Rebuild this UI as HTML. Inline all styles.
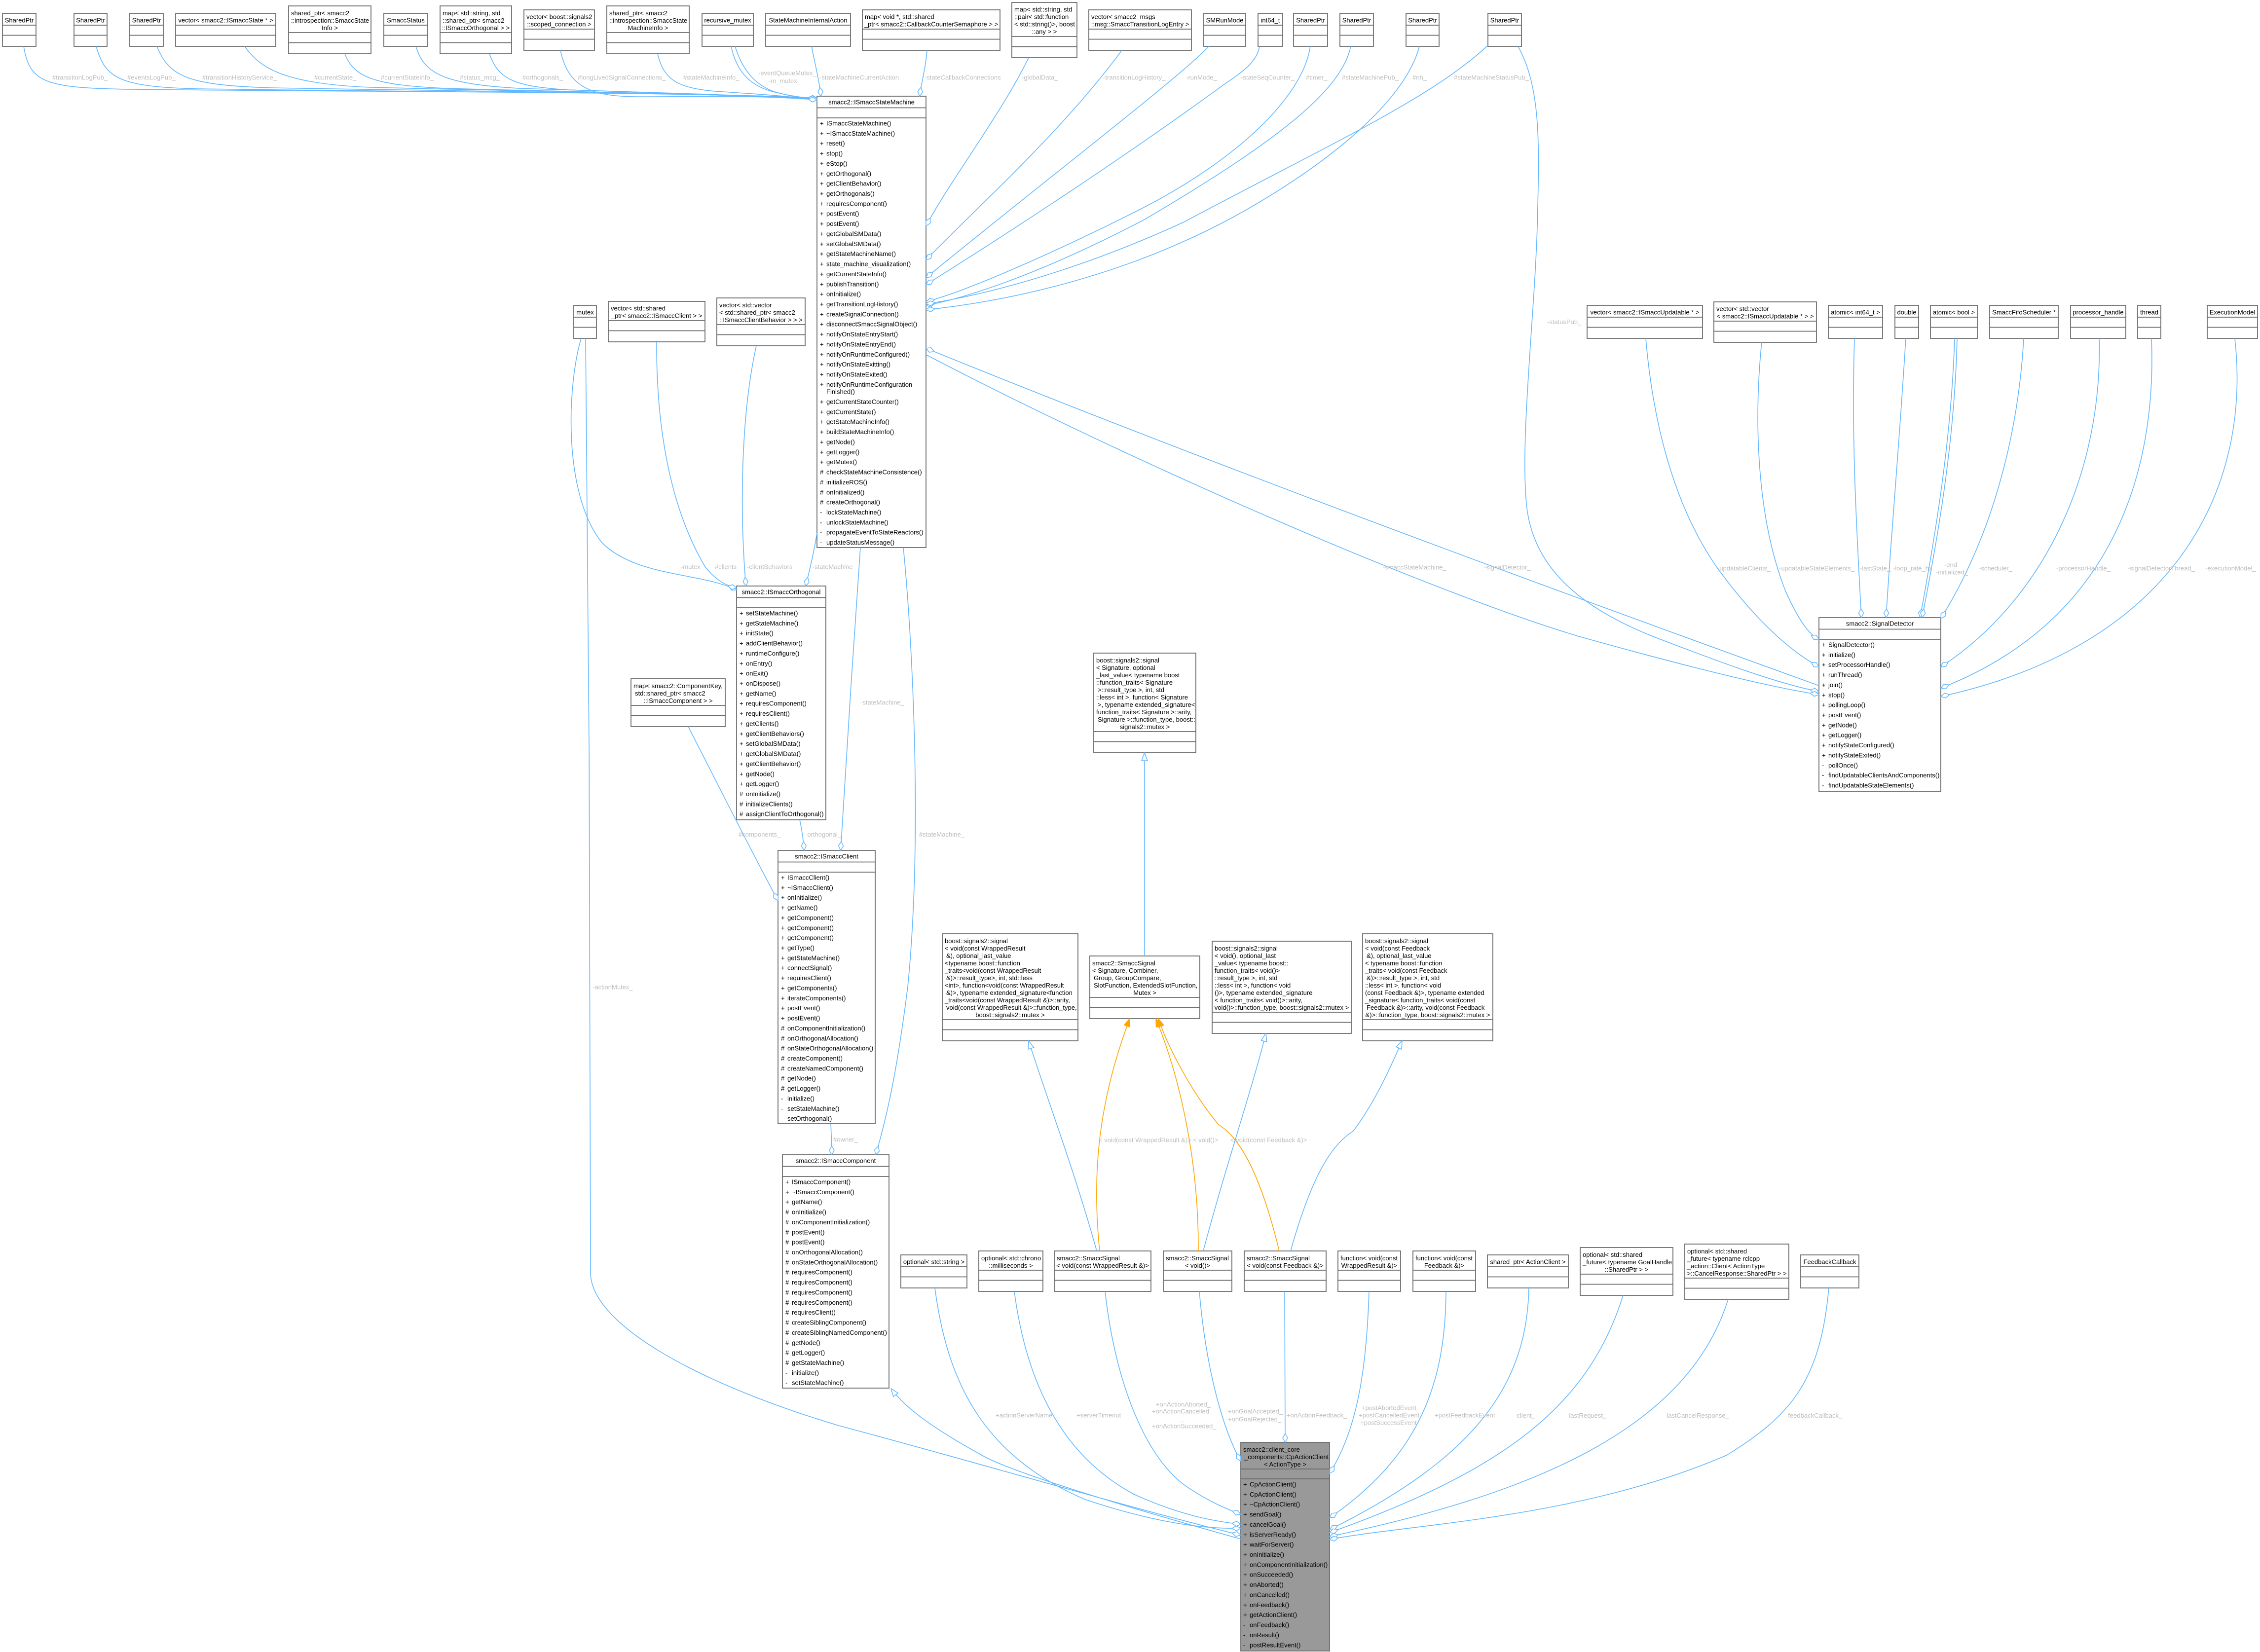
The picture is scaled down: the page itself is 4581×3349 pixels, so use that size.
<!DOCTYPE html>
<html><head><meta charset="utf-8">
<style>
html,body{margin:0;padding:0;background:#fff}
svg{display:block}
text{font-family:"Liberation Sans",Arial,sans-serif;font-size:13px;fill:#000}
.l{fill:#bebebe}
.m{text-anchor:middle}
.b{fill:#fff;stroke:#6b6b6b;stroke-width:1.8}
.g{fill:#999;stroke:#6b6b6b;stroke-width:1.8}
.v{fill:none;stroke:#6b6b6b;stroke-width:1.8}
.e{fill:none;stroke:#63b8ff;stroke-width:1.6}
.o{fill:none;stroke:#ffa500;stroke-width:1.6}
</style></head><body>
<svg xmlns="http://www.w3.org/2000/svg" width="4581" height="3349" viewBox="0 0 4581 3349">
<defs>
<marker id="d" viewBox="0 0 20 12" markerWidth="20" markerHeight="12" refX="19" refY="6" orient="auto" markerUnits="userSpaceOnUse"><path d="M1,6 L10,1 L19,6 L10,11 Z" fill="#fff" stroke="#63b8ff" stroke-width="1.5"/></marker>
<marker id="t" viewBox="0 0 18 14" markerWidth="18" markerHeight="14" refX="17" refY="7" orient="auto" markerUnits="userSpaceOnUse"><path d="M1,1 L17,7 L1,13 Z" fill="#fff" stroke="#63b8ff" stroke-width="1.5"/></marker>
<marker id="f" viewBox="0 0 18 14" markerWidth="18" markerHeight="14" refX="17" refY="7" orient="auto" markerUnits="userSpaceOnUse"><path d="M1,1 L17,7 L1,13 Z" fill="#ffa500" stroke="#ffa500" stroke-width="1.5"/></marker>
</defs>
<rect width="4581" height="3349" fill="#fff"/>

<!-- ===== TOP ROW BOXES ===== -->
<rect class="b" x="5" y="27" width="68" height="67"/><path class="v" d="M5,51H73M5,71.5H73"/><text class="m" x="39" y="45.5">SharedPtr</text>
<rect class="b" x="150" y="27" width="67" height="67"/><path class="v" d="M150,51H217M150,71.5H217"/><text class="m" x="183.5" y="45.5">SharedPtr</text>
<rect class="b" x="263" y="27" width="68" height="67"/><path class="v" d="M263,51H331M263,71.5H331"/><text class="m" x="297" y="45.5">SharedPtr</text>
<rect class="b" x="356" y="27" width="203" height="67"/><path class="v" d="M356,51H559M356,71.5H559"/><text class="m" x="457.5" y="45.5">vector&lt; smacc2::ISmaccState * &gt;</text>
<rect class="b" x="585" y="12" width="167" height="97"/><path class="v" d="M585,66H752M585,86.5H752"/><text x="590" y="31">shared_ptr&lt; smacc2</text><text x="590" y="46">::introspection::SmaccState</text><text class="m" x="668.5" y="61">Info &gt;</text>
<rect class="b" x="778" y="27" width="89" height="67"/><path class="v" d="M778,51H867M778,71.5H867"/><text class="m" x="822.5" y="45.5">SmaccStatus</text>
<rect class="b" x="892" y="12" width="145" height="97"/><path class="v" d="M892,66H1037M892,86.5H1037"/><text x="897" y="31">map&lt; std::string, std</text><text x="897" y="46">::shared_ptr&lt; smacc2</text><text class="m" x="964.5" y="61">::ISmaccOrthogonal &gt; &gt;</text>
<rect class="b" x="1062" y="20" width="143" height="82"/><path class="v" d="M1062,59H1205M1062,79.5H1205"/><text x="1067" y="38.5">vector&lt; boost::signals2</text><text class="m" x="1133.5" y="53.5">::scoped_connection &gt;</text>
<rect class="b" x="1230" y="12" width="167" height="97"/><path class="v" d="M1230,66H1397M1230,86.5H1397"/><text x="1235" y="31">shared_ptr&lt; smacc2</text><text x="1235" y="46">::introspection::SmaccState</text><text class="m" x="1313.5" y="61">MachineInfo &gt;</text>
<rect class="b" x="1423" y="27" width="104" height="67"/><path class="v" d="M1423,51H1527M1423,71.5H1527"/><text class="m" x="1475" y="45.5">recursive_mutex</text>
<rect class="b" x="1552" y="27" width="172" height="67"/><path class="v" d="M1552,51H1724M1552,71.5H1724"/><text class="m" x="1638" y="45.5">StateMachineInternalAction</text>
<rect class="b" x="1748" y="20" width="279" height="82"/><path class="v" d="M1748,59H2027M1748,79.5H2027"/><text x="1753" y="38.5">map&lt; void *, std::shared</text><text class="m" x="1887.5" y="53.5">_ptr&lt; smacc2::CallbackCounterSemaphore &gt; &gt;</text>
<rect class="b" x="2051" y="5" width="132" height="112"/><path class="v" d="M2051,74H2183M2051,94.5H2183"/><text x="2056" y="23.5">map&lt; std::string, std</text><text x="2056" y="38.5">::pair&lt; std::function</text><text x="2056" y="53.5">&lt; std::string()&gt;, boost</text><text class="m" x="2117" y="68.5">::any &gt; &gt;</text>
<rect class="b" x="2207" y="20" width="208" height="82"/><path class="v" d="M2207,59H2415M2207,79.5H2415"/><text x="2212" y="38.5">vector&lt; smacc2_msgs</text><text class="m" x="2311" y="53.5">::msg::SmaccTransitionLogEntry &gt;</text>
<rect class="b" x="2440" y="27" width="85" height="67"/><path class="v" d="M2440,51H2525M2440,71.5H2525"/><text class="m" x="2482.5" y="45.5">SMRunMode</text>
<rect class="b" x="2550" y="27" width="50" height="67"/><path class="v" d="M2550,51H2600M2550,71.5H2600"/><text class="m" x="2575" y="45.5">int64_t</text>
<rect class="b" x="2622" y="27" width="69" height="67"/><path class="v" d="M2622,51H2691M2622,71.5H2691"/><text class="m" x="2656.5" y="45.5">SharedPtr</text>
<rect class="b" x="2716" y="27" width="68" height="67"/><path class="v" d="M2716,51H2784M2716,71.5H2784"/><text class="m" x="2750" y="45.5">SharedPtr</text>
<rect class="b" x="2850" y="27" width="67" height="67"/><path class="v" d="M2850,51H2917M2850,71.5H2917"/><text class="m" x="2883.5" y="45.5">SharedPtr</text>
<rect class="b" x="3016" y="27" width="68" height="67"/><path class="v" d="M3016,51H3084M3016,71.5H3084"/><text class="m" x="3050" y="45.5">SharedPtr</text>

<!-- ===== MID-LEFT SMALL BOXES ===== -->
<rect class="b" x="1163" y="619" width="46" height="67"/><path class="v" d="M1163,643H1209M1163,663.5H1209"/><text class="m" x="1186" y="637.5">mutex</text>
<rect class="b" x="1233" y="611" width="196" height="82"/><path class="v" d="M1233,650H1429M1233,670.5H1429"/><text x="1238" y="629.5">vector&lt; std::shared</text><text class="m" x="1331" y="644.5">_ptr&lt; smacc2::ISmaccClient &gt; &gt;</text>
<rect class="b" x="1453" y="604" width="179" height="97"/><path class="v" d="M1453,658H1632M1453,678.5H1632"/><text x="1458" y="623">vector&lt; std::vector</text><text x="1458" y="638">&lt; std::shared_ptr&lt; smacc2</text><text class="m" x="1542.5" y="653">::ISmaccClientBehavior &gt; &gt; &gt;</text>
<rect class="b" x="1279" y="1376" width="191" height="97"/><path class="v" d="M1279,1430H1470M1279,1450.5H1470"/><text x="1284" y="1395">map&lt; smacc2::ComponentKey,</text><text x="1287" y="1410">std::shared_ptr&lt; smacc2</text><text class="m" x="1374.5" y="1425">::ISmaccComponent &gt; &gt;</text>

<!-- ===== RIGHT ROW BOXES ===== -->
<rect class="b" x="3217" y="619" width="234" height="67"/><path class="v" d="M3217,643H3451M3217,663.5H3451"/><text class="m" x="3334" y="637.5">vector&lt; smacc2::ISmaccUpdatable * &gt;</text>
<rect class="b" x="3474" y="612" width="208" height="82"/><path class="v" d="M3474,651H3682M3474,671.5H3682"/><text x="3479" y="630.5">vector&lt; std::vector</text><text class="m" x="3578" y="645.5">&lt; smacc2::ISmaccUpdatable * &gt; &gt;</text>
<rect class="b" x="3706" y="619" width="110" height="67"/><path class="v" d="M3706,643H3816M3706,663.5H3816"/><text class="m" x="3761" y="637.5">atomic&lt; int64_t &gt;</text>
<rect class="b" x="3841" y="619" width="48" height="67"/><path class="v" d="M3841,643H3889M3841,663.5H3889"/><text class="m" x="3865" y="637.5">double</text>
<rect class="b" x="3913" y="619" width="95" height="67"/><path class="v" d="M3913,643H4008M3913,663.5H4008"/><text class="m" x="3960.5" y="637.5">atomic&lt; bool &gt;</text>
<rect class="b" x="4033" y="619" width="139" height="67"/><path class="v" d="M4033,643H4172M4033,663.5H4172"/><text class="m" x="4102.5" y="637.5">SmaccFifoScheduler *</text>
<rect class="b" x="4197" y="619" width="112" height="67"/><path class="v" d="M4197,643H4309M4197,663.5H4309"/><text class="m" x="4253" y="637.5">processor_handle</text>
<rect class="b" x="4333" y="619" width="47" height="67"/><path class="v" d="M4333,643H4380M4333,663.5H4380"/><text class="m" x="4356.5" y="637.5">thread</text>
<rect class="b" x="4474" y="619" width="102" height="67"/><path class="v" d="M4474,643H4576M4474,663.5H4576"/><text class="m" x="4525" y="637.5">ExecutionModel</text>

<!-- ===== ISmaccStateMachine ===== -->
<rect class="b" x="1656" y="195" width="221" height="915"/><path class="v" d="M1656,218.5H1877M1656,239H1877"/>
<text class="m" x="1766.5" y="211.5">smacc2::ISmaccStateMachine</text>
<text x="1662" y="254.5"><tspan x="1662" dy="0">+</tspan><tspan x="1662" dy="20.36">+</tspan><tspan x="1662" dy="20.36">+</tspan><tspan x="1662" dy="20.36">+</tspan><tspan x="1662" dy="20.36">+</tspan><tspan x="1662" dy="20.36">+</tspan><tspan x="1662" dy="20.36">+</tspan><tspan x="1662" dy="20.36">+</tspan><tspan x="1662" dy="20.36">+</tspan><tspan x="1662" dy="20.36">+</tspan><tspan x="1662" dy="20.36">+</tspan><tspan x="1662" dy="20.36">+</tspan><tspan x="1662" dy="20.36">+</tspan><tspan x="1662" dy="20.36">+</tspan><tspan x="1662" dy="20.36">+</tspan><tspan x="1662" dy="20.36">+</tspan><tspan x="1662" dy="20.36">+</tspan><tspan x="1662" dy="20.36">+</tspan><tspan x="1662" dy="20.36">+</tspan><tspan x="1662" dy="20.36">+</tspan><tspan x="1662" dy="20.36">+</tspan><tspan x="1662" dy="20.36">+</tspan><tspan x="1662" dy="20.36">+</tspan><tspan x="1662" dy="20.36">+</tspan><tspan x="1662" dy="20.36">+</tspan><tspan x="1662" dy="20.36">+</tspan><tspan x="1662" dy="20.36">+</tspan><tspan x="1662" dy="35.16">+</tspan><tspan x="1662" dy="20.36">+</tspan><tspan x="1662" dy="20.36">+</tspan><tspan x="1662" dy="20.36">+</tspan><tspan x="1662" dy="20.36">+</tspan><tspan x="1662" dy="20.36">+</tspan><tspan x="1662" dy="20.36">+</tspan><tspan x="1662" dy="20.36">#</tspan><tspan x="1662" dy="20.36">#</tspan><tspan x="1662" dy="20.36">#</tspan><tspan x="1662" dy="20.36">#</tspan><tspan x="1662" dy="20.36">-</tspan><tspan x="1662" dy="20.36">-</tspan><tspan x="1662" dy="20.36">-</tspan><tspan x="1662" dy="20.36">-</tspan></text>
<text x="1675" y="254.5"><tspan x="1675" dy="0">ISmaccStateMachine()</tspan><tspan x="1675" dy="20.36">~ISmaccStateMachine()</tspan><tspan x="1675" dy="20.36">reset()</tspan><tspan x="1675" dy="20.36">stop()</tspan><tspan x="1675" dy="20.36">eStop()</tspan><tspan x="1675" dy="20.36">getOrthogonal()</tspan><tspan x="1675" dy="20.36">getClientBehavior()</tspan><tspan x="1675" dy="20.36">getOrthogonals()</tspan><tspan x="1675" dy="20.36">requiresComponent()</tspan><tspan x="1675" dy="20.36">postEvent()</tspan><tspan x="1675" dy="20.36">postEvent()</tspan><tspan x="1675" dy="20.36">getGlobalSMData()</tspan><tspan x="1675" dy="20.36">setGlobalSMData()</tspan><tspan x="1675" dy="20.36">getStateMachineName()</tspan><tspan x="1675" dy="20.36">state_machine_visualization()</tspan><tspan x="1675" dy="20.36">getCurrentStateInfo()</tspan><tspan x="1675" dy="20.36">publishTransition()</tspan><tspan x="1675" dy="20.36">onInitialize()</tspan><tspan x="1675" dy="20.36">getTransitionLogHistory()</tspan><tspan x="1675" dy="20.36">createSignalConnection()</tspan><tspan x="1675" dy="20.36">disconnectSmaccSignalObject()</tspan><tspan x="1675" dy="20.36">notifyOnStateEntryStart()</tspan><tspan x="1675" dy="20.36">notifyOnStateEntryEnd()</tspan><tspan x="1675" dy="20.36">notifyOnRuntimeConfigured()</tspan><tspan x="1675" dy="20.36">notifyOnStateExitting()</tspan><tspan x="1675" dy="20.36">notifyOnStateExited()</tspan><tspan x="1675" dy="20.36">notifyOnRuntimeConfiguration</tspan><tspan x="1675" dy="14.8">Finished()</tspan><tspan x="1675" dy="20.36">getCurrentStateCounter()</tspan><tspan x="1675" dy="20.36">getCurrentState()</tspan><tspan x="1675" dy="20.36">getStateMachineInfo()</tspan><tspan x="1675" dy="20.36">buildStateMachineInfo()</tspan><tspan x="1675" dy="20.36">getNode()</tspan><tspan x="1675" dy="20.36">getLogger()</tspan><tspan x="1675" dy="20.36">getMutex()</tspan><tspan x="1675" dy="20.36">checkStateMachineConsistence()</tspan><tspan x="1675" dy="20.36">initializeROS()</tspan><tspan x="1675" dy="20.36">onInitialized()</tspan><tspan x="1675" dy="20.36">createOrthogonal()</tspan><tspan x="1675" dy="20.36">lockStateMachine()</tspan><tspan x="1675" dy="20.36">unlockStateMachine()</tspan><tspan x="1675" dy="20.36">propagateEventToStateReactors()</tspan><tspan x="1675" dy="20.36">updateStatusMessage()</tspan></text>

<!-- ===== ISmaccOrthogonal ===== -->
<rect class="b" x="1493" y="1188" width="181" height="474"/><path class="v" d="M1493,1211.5H1674M1493,1232H1674"/>
<text class="m" x="1583.5" y="1204.5">smacc2::ISmaccOrthogonal</text>
<text x="1499" y="1247.5"><tspan x="1499" dy="0">+</tspan><tspan x="1499" dy="20.36">+</tspan><tspan x="1499" dy="20.36">+</tspan><tspan x="1499" dy="20.36">+</tspan><tspan x="1499" dy="20.36">+</tspan><tspan x="1499" dy="20.36">+</tspan><tspan x="1499" dy="20.36">+</tspan><tspan x="1499" dy="20.36">+</tspan><tspan x="1499" dy="20.36">+</tspan><tspan x="1499" dy="20.36">+</tspan><tspan x="1499" dy="20.36">+</tspan><tspan x="1499" dy="20.36">+</tspan><tspan x="1499" dy="20.36">+</tspan><tspan x="1499" dy="20.36">+</tspan><tspan x="1499" dy="20.36">+</tspan><tspan x="1499" dy="20.36">+</tspan><tspan x="1499" dy="20.36">+</tspan><tspan x="1499" dy="20.36">+</tspan><tspan x="1499" dy="20.36">#</tspan><tspan x="1499" dy="20.36">#</tspan><tspan x="1499" dy="20.36">#</tspan></text>
<text x="1512" y="1247.5"><tspan x="1512" dy="0">setStateMachine()</tspan><tspan x="1512" dy="20.36">getStateMachine()</tspan><tspan x="1512" dy="20.36">initState()</tspan><tspan x="1512" dy="20.36">addClientBehavior()</tspan><tspan x="1512" dy="20.36">runtimeConfigure()</tspan><tspan x="1512" dy="20.36">onEntry()</tspan><tspan x="1512" dy="20.36">onExit()</tspan><tspan x="1512" dy="20.36">onDispose()</tspan><tspan x="1512" dy="20.36">getName()</tspan><tspan x="1512" dy="20.36">requiresComponent()</tspan><tspan x="1512" dy="20.36">requiresClient()</tspan><tspan x="1512" dy="20.36">getClients()</tspan><tspan x="1512" dy="20.36">getClientBehaviors()</tspan><tspan x="1512" dy="20.36">setGlobalSMData()</tspan><tspan x="1512" dy="20.36">getGlobalSMData()</tspan><tspan x="1512" dy="20.36">getClientBehavior()</tspan><tspan x="1512" dy="20.36">getNode()</tspan><tspan x="1512" dy="20.36">getLogger()</tspan><tspan x="1512" dy="20.36">onInitialize()</tspan><tspan x="1512" dy="20.36">initializeClients()</tspan><tspan x="1512" dy="20.36">assignClientToOrthogonal()</tspan></text>

<!-- ===== ISmaccClient ===== -->
<rect class="b" x="1577" y="1724" width="197" height="554"/><path class="v" d="M1577,1747.5H1774M1577,1768H1774"/>
<text class="m" x="1675.5" y="1740.5">smacc2::ISmaccClient</text>
<text x="1583" y="1783.5"><tspan x="1583" dy="0">+</tspan><tspan x="1583" dy="20.36">+</tspan><tspan x="1583" dy="20.36">+</tspan><tspan x="1583" dy="20.36">+</tspan><tspan x="1583" dy="20.36">+</tspan><tspan x="1583" dy="20.36">+</tspan><tspan x="1583" dy="20.36">+</tspan><tspan x="1583" dy="20.36">+</tspan><tspan x="1583" dy="20.36">+</tspan><tspan x="1583" dy="20.36">+</tspan><tspan x="1583" dy="20.36">+</tspan><tspan x="1583" dy="20.36">+</tspan><tspan x="1583" dy="20.36">+</tspan><tspan x="1583" dy="20.36">+</tspan><tspan x="1583" dy="20.36">+</tspan><tspan x="1583" dy="20.36">#</tspan><tspan x="1583" dy="20.36">#</tspan><tspan x="1583" dy="20.36">#</tspan><tspan x="1583" dy="20.36">#</tspan><tspan x="1583" dy="20.36">#</tspan><tspan x="1583" dy="20.36">#</tspan><tspan x="1583" dy="20.36">#</tspan><tspan x="1583" dy="20.36">-</tspan><tspan x="1583" dy="20.36">-</tspan><tspan x="1583" dy="20.36">-</tspan></text>
<text x="1596" y="1783.5"><tspan x="1596" dy="0">ISmaccClient()</tspan><tspan x="1596" dy="20.36">~ISmaccClient()</tspan><tspan x="1596" dy="20.36">onInitialize()</tspan><tspan x="1596" dy="20.36">getName()</tspan><tspan x="1596" dy="20.36">getComponent()</tspan><tspan x="1596" dy="20.36">getComponent()</tspan><tspan x="1596" dy="20.36">getComponent()</tspan><tspan x="1596" dy="20.36">getType()</tspan><tspan x="1596" dy="20.36">getStateMachine()</tspan><tspan x="1596" dy="20.36">connectSignal()</tspan><tspan x="1596" dy="20.36">requiresClient()</tspan><tspan x="1596" dy="20.36">getComponents()</tspan><tspan x="1596" dy="20.36">iterateComponents()</tspan><tspan x="1596" dy="20.36">postEvent()</tspan><tspan x="1596" dy="20.36">postEvent()</tspan><tspan x="1596" dy="20.36">onComponentInitialization()</tspan><tspan x="1596" dy="20.36">onOrthogonalAllocation()</tspan><tspan x="1596" dy="20.36">onStateOrthogonalAllocation()</tspan><tspan x="1596" dy="20.36">createComponent()</tspan><tspan x="1596" dy="20.36">createNamedComponent()</tspan><tspan x="1596" dy="20.36">getNode()</tspan><tspan x="1596" dy="20.36">getLogger()</tspan><tspan x="1596" dy="20.36">initialize()</tspan><tspan x="1596" dy="20.36">setStateMachine()</tspan><tspan x="1596" dy="20.36">setOrthogonal()</tspan></text>

<!-- ===== ISmaccComponent ===== -->
<rect class="b" x="1586" y="2341" width="216" height="473"/><path class="v" d="M1586,2364.5H1802M1586,2385H1802"/>
<text class="m" x="1694" y="2357.5">smacc2::ISmaccComponent</text>
<text x="1592" y="2400.5"><tspan x="1592" dy="0">+</tspan><tspan x="1592" dy="20.36">+</tspan><tspan x="1592" dy="20.36">+</tspan><tspan x="1592" dy="20.36">#</tspan><tspan x="1592" dy="20.36">#</tspan><tspan x="1592" dy="20.36">#</tspan><tspan x="1592" dy="20.36">#</tspan><tspan x="1592" dy="20.36">#</tspan><tspan x="1592" dy="20.36">#</tspan><tspan x="1592" dy="20.36">#</tspan><tspan x="1592" dy="20.36">#</tspan><tspan x="1592" dy="20.36">#</tspan><tspan x="1592" dy="20.36">#</tspan><tspan x="1592" dy="20.36">#</tspan><tspan x="1592" dy="20.36">#</tspan><tspan x="1592" dy="20.36">#</tspan><tspan x="1592" dy="20.36">#</tspan><tspan x="1592" dy="20.36">#</tspan><tspan x="1592" dy="20.36">#</tspan><tspan x="1592" dy="20.36">-</tspan><tspan x="1592" dy="20.36">-</tspan></text>
<text x="1605" y="2400.5"><tspan x="1605" dy="0">ISmaccComponent()</tspan><tspan x="1605" dy="20.36">~ISmaccComponent()</tspan><tspan x="1605" dy="20.36">getName()</tspan><tspan x="1605" dy="20.36">onInitialize()</tspan><tspan x="1605" dy="20.36">onComponentInitialization()</tspan><tspan x="1605" dy="20.36">postEvent()</tspan><tspan x="1605" dy="20.36">postEvent()</tspan><tspan x="1605" dy="20.36">onOrthogonalAllocation()</tspan><tspan x="1605" dy="20.36">onStateOrthogonalAllocation()</tspan><tspan x="1605" dy="20.36">requiresComponent()</tspan><tspan x="1605" dy="20.36">requiresComponent()</tspan><tspan x="1605" dy="20.36">requiresComponent()</tspan><tspan x="1605" dy="20.36">requiresComponent()</tspan><tspan x="1605" dy="20.36">requiresClient()</tspan><tspan x="1605" dy="20.36">createSiblingComponent()</tspan><tspan x="1605" dy="20.36">createSiblingNamedComponent()</tspan><tspan x="1605" dy="20.36">getNode()</tspan><tspan x="1605" dy="20.36">getLogger()</tspan><tspan x="1605" dy="20.36">getStateMachine()</tspan><tspan x="1605" dy="20.36">initialize()</tspan><tspan x="1605" dy="20.36">setStateMachine()</tspan></text>

<!-- ===== SignalDetector ===== -->
<rect class="b" x="3687" y="1252" width="247" height="353"/><path class="v" d="M3687,1275.5H3934M3687,1296H3934"/>
<text class="m" x="3810.5" y="1268.5">smacc2::SignalDetector</text>
<text x="3693" y="1311.5"><tspan x="3693" dy="0">+</tspan><tspan x="3693" dy="20.36">+</tspan><tspan x="3693" dy="20.36">+</tspan><tspan x="3693" dy="20.36">+</tspan><tspan x="3693" dy="20.36">+</tspan><tspan x="3693" dy="20.36">+</tspan><tspan x="3693" dy="20.36">+</tspan><tspan x="3693" dy="20.36">+</tspan><tspan x="3693" dy="20.36">+</tspan><tspan x="3693" dy="20.36">+</tspan><tspan x="3693" dy="20.36">+</tspan><tspan x="3693" dy="20.36">+</tspan><tspan x="3693" dy="20.36">-</tspan><tspan x="3693" dy="20.36">-</tspan><tspan x="3693" dy="20.36">-</tspan></text>
<text x="3706" y="1311.5"><tspan x="3706" dy="0">SignalDetector()</tspan><tspan x="3706" dy="20.36">initialize()</tspan><tspan x="3706" dy="20.36">setProcessorHandle()</tspan><tspan x="3706" dy="20.36">runThread()</tspan><tspan x="3706" dy="20.36">join()</tspan><tspan x="3706" dy="20.36">stop()</tspan><tspan x="3706" dy="20.36">pollingLoop()</tspan><tspan x="3706" dy="20.36">postEvent()</tspan><tspan x="3706" dy="20.36">getNode()</tspan><tspan x="3706" dy="20.36">getLogger()</tspan><tspan x="3706" dy="20.36">notifyStateConfigured()</tspan><tspan x="3706" dy="20.36">notifyStateExited()</tspan><tspan x="3706" dy="20.36">pollOnce()</tspan><tspan x="3706" dy="20.36">findUpdatableClientsAndComponents()</tspan><tspan x="3706" dy="20.36">findUpdatableStateElements()</tspan></text>

<!-- ===== TEMPLATE SIGNAL BOXES ===== -->
<rect class="b" x="2217" y="1324" width="207" height="202"/><path class="v" d="M2217,1483H2424M2217,1503.5H2424"/>
<text x="2222" y="1343"><tspan x="2222" dy="0">boost::signals2::signal</tspan><tspan x="2222" dy="15">&lt; Signature, optional</tspan><tspan x="2222" dy="15">_last_value&lt; typename boost</tspan><tspan x="2222" dy="15">::function_traits&lt; Signature</tspan><tspan x="2225" dy="15">&gt;::result_type &gt;, int, std</tspan><tspan x="2222" dy="15">::less&lt; int &gt;, function&lt; Signature</tspan><tspan x="2225" dy="15">&gt;, typename extended_signature&lt;</tspan><tspan x="2222" dy="15">function_traits&lt; Signature &gt;::arity,</tspan><tspan x="2225" dy="15">Signature &gt;::function_type, boost::</tspan></text>
<text class="m" x="2320.5" y="1478">signals2::mutex &gt;</text>

<rect class="b" x="2209" y="1938" width="223" height="127"/><path class="v" d="M2209,2022H2432M2209,2042.5H2432"/>
<text x="2214" y="1957"><tspan x="2214" dy="0">smacc2::SmaccSignal</tspan><tspan x="2214" dy="15">&lt; Signature, Combiner,</tspan><tspan x="2217" dy="15">Group, GroupCompare,</tspan><tspan x="2217" dy="15">SlotFunction, ExtendedSlotFunction,</tspan></text>
<text class="m" x="2320.5" y="2017">Mutex &gt;</text>

<rect class="b" x="1910" y="1893" width="275" height="217"/><path class="v" d="M1910,2067H2185M1910,2087.5H2185"/>
<text x="1915" y="1912"><tspan x="1915" dy="0">boost::signals2::signal</tspan><tspan x="1915" dy="15">&lt; void(const WrappedResult</tspan><tspan x="1918" dy="15">&amp;), optional_last_value</tspan><tspan x="1915" dy="15">&lt;typename boost::function</tspan><tspan x="1915" dy="15">_traits&lt;void(const WrappedResult</tspan><tspan x="1918" dy="15">&amp;)&gt;::result_type&gt;, int, std::less</tspan><tspan x="1915" dy="15">&lt;int&gt;, function&lt;void(const WrappedResult</tspan><tspan x="1918" dy="15">&amp;)&gt;, typename extended_signature&lt;function</tspan><tspan x="1915" dy="15">_traits&lt;void(const WrappedResult &amp;)&gt;::arity,</tspan><tspan x="1918" dy="15">void(const WrappedResult &amp;)&gt;::function_type,</tspan></text>
<text class="m" x="2047.5" y="2062">boost::signals2::mutex &gt;</text>

<rect class="b" x="2457" y="1908" width="282" height="187"/><path class="v" d="M2457,2052H2739M2457,2072.5H2739"/>
<text x="2462" y="1927"><tspan x="2462" dy="0">boost::signals2::signal</tspan><tspan x="2462" dy="15">&lt; void(), optional_last</tspan><tspan x="2462" dy="15">_value&lt; typename boost::</tspan><tspan x="2462" dy="15">function_traits&lt; void()&gt;</tspan><tspan x="2462" dy="15">::result_type &gt;, int, std</tspan><tspan x="2462" dy="15">::less&lt; int &gt;, function&lt; void</tspan><tspan x="2462" dy="15">()&gt;, typename extended_signature</tspan><tspan x="2462" dy="15">&lt; function_traits&lt; void()&gt;::arity,</tspan></text>
<text class="m" x="2598" y="2047">void()&gt;::function_type, boost::signals2::mutex &gt;</text>

<rect class="b" x="2762" y="1893" width="264" height="217"/><path class="v" d="M2762,2067H3026M2762,2087.5H3026"/>
<text x="2767" y="1912"><tspan x="2767" dy="0">boost::signals2::signal</tspan><tspan x="2767" dy="15">&lt; void(const Feedback</tspan><tspan x="2770" dy="15">&amp;), optional_last_value</tspan><tspan x="2767" dy="15">&lt; typename boost::function</tspan><tspan x="2767" dy="15">_traits&lt; void(const Feedback</tspan><tspan x="2770" dy="15">&amp;)&gt;::result_type &gt;, int, std</tspan><tspan x="2767" dy="15">::less&lt; int &gt;, function&lt; void</tspan><tspan x="2767" dy="15">(const Feedback &amp;)&gt;, typename extended</tspan><tspan x="2767" dy="15">_signature&lt; function_traits&lt; void(const</tspan><tspan x="2770" dy="15">Feedback &amp;)&gt;::arity, void(const Feedback</tspan></text>
<text class="m" x="2894" y="2062">&amp;)&gt;::function_type, boost::signals2::mutex &gt;</text>

<!-- ===== BOTTOM ROW BOXES ===== -->
<rect class="b" x="1826" y="2544" width="134" height="67"/><path class="v" d="M1826,2568H1960M1826,2588.5H1960"/><text class="m" x="1893" y="2562.5">optional&lt; std::string &gt;</text>
<rect class="b" x="1984" y="2536" width="130" height="82"/><path class="v" d="M1984,2575H2114M1984,2595.5H2114"/><text x="1989" y="2555">optional&lt; std::chrono</text><text class="m" x="2049" y="2570">::milliseconds &gt;</text>
<rect class="b" x="2137" y="2536" width="196" height="82"/><path class="v" d="M2137,2575H2333M2137,2595.5H2333"/><text x="2142" y="2555">smacc2::SmaccSignal</text><text class="m" x="2235" y="2570">&lt; void(const WrappedResult &amp;)&gt;</text>
<rect class="b" x="2358" y="2536" width="139" height="82"/><path class="v" d="M2358,2575H2497M2358,2595.5H2497"/><text x="2363" y="2555">smacc2::SmaccSignal</text><text class="m" x="2427.5" y="2570">&lt; void()&gt;</text>
<rect class="b" x="2522" y="2536" width="166" height="82"/><path class="v" d="M2522,2575H2688M2522,2595.5H2688"/><text x="2527" y="2555">smacc2::SmaccSignal</text><text class="m" x="2605" y="2570">&lt; void(const Feedback &amp;)&gt;</text>
<rect class="b" x="2712" y="2536" width="127" height="82"/><path class="v" d="M2712,2575H2839M2712,2595.5H2839"/><text x="2717" y="2555">function&lt; void(const</text><text class="m" x="2775.5" y="2570">WrappedResult &amp;)&gt;</text>
<rect class="b" x="2864" y="2536" width="127" height="82"/><path class="v" d="M2864,2575H2991M2864,2595.5H2991"/><text x="2869" y="2555">function&lt; void(const</text><text class="m" x="2927.5" y="2570">Feedback &amp;)&gt;</text>
<rect class="b" x="3015" y="2544" width="164" height="67"/><path class="v" d="M3015,2568H3179M3015,2588.5H3179"/><text class="m" x="3097" y="2562.5">shared_ptr&lt; ActionClient &gt;</text>
<rect class="b" x="3203" y="2529" width="188" height="97"/><path class="v" d="M3203,2583H3391M3203,2603.5H3391"/><text x="3208" y="2548">optional&lt; std::shared</text><text x="3208" y="2563">_future&lt; typename GoalHandle</text><text class="m" x="3297" y="2578">::SharedPtr &gt; &gt;</text>
<rect class="b" x="3415" y="2522" width="211" height="112"/><path class="v" d="M3415,2591H3626M3415,2611.5H3626"/><text x="3420" y="2541">optional&lt; std::shared</text><text x="3420" y="2556">_future&lt; typename rclcpp</text><text x="3420" y="2571">_action::Client&lt; ActionType</text><text class="m" x="3520.5" y="2586">&gt;::CancelResponse::SharedPtr &gt; &gt;</text>
<rect class="b" x="3650" y="2544" width="118" height="67"/><path class="v" d="M3650,2568H3768M3650,2588.5H3768"/><text class="m" x="3709" y="2562.5">FeedbackCallback</text>

<!-- ===== CpActionClient ===== -->
<rect class="g" x="2515" y="2924" width="180" height="423"/><path class="v" d="M2515,2978H2695M2515,2998H2695"/>
<text x="2520" y="2943">smacc2::client_core</text><text x="2522" y="2958">_components::CpActionClient</text><text class="m" x="2605" y="2973">&lt; ActionType &gt;</text>
<text x="2520" y="3013.5"><tspan x="2520" dy="0">+</tspan><tspan x="2520" dy="20.36">+</tspan><tspan x="2520" dy="20.36">+</tspan><tspan x="2520" dy="20.36">+</tspan><tspan x="2520" dy="20.36">+</tspan><tspan x="2520" dy="20.36">+</tspan><tspan x="2520" dy="20.36">+</tspan><tspan x="2520" dy="20.36">+</tspan><tspan x="2520" dy="20.36">+</tspan><tspan x="2520" dy="20.36">+</tspan><tspan x="2520" dy="20.36">+</tspan><tspan x="2520" dy="20.36">+</tspan><tspan x="2520" dy="20.36">+</tspan><tspan x="2520" dy="20.36">+</tspan><tspan x="2520" dy="20.36">-</tspan><tspan x="2520" dy="20.36">-</tspan><tspan x="2520" dy="20.36">-</tspan></text>
<text x="2533" y="3013.5"><tspan x="2533" dy="0">CpActionClient()</tspan><tspan x="2533" dy="20.36">CpActionClient()</tspan><tspan x="2533" dy="20.36">~CpActionClient()</tspan><tspan x="2533" dy="20.36">sendGoal()</tspan><tspan x="2533" dy="20.36">cancelGoal()</tspan><tspan x="2533" dy="20.36">isServerReady()</tspan><tspan x="2533" dy="20.36">waitForServer()</tspan><tspan x="2533" dy="20.36">onInitialize()</tspan><tspan x="2533" dy="20.36">onComponentInitialization()</tspan><tspan x="2533" dy="20.36">onSucceeded()</tspan><tspan x="2533" dy="20.36">onAborted()</tspan><tspan x="2533" dy="20.36">onCancelled()</tspan><tspan x="2533" dy="20.36">onFeedback()</tspan><tspan x="2533" dy="20.36">getActionClient()</tspan><tspan x="2533" dy="20.36">onFeedback()</tspan><tspan x="2533" dy="20.36">onResult()</tspan><tspan x="2533" dy="20.36">postResultEvent()</tspan></text>

<!-- ===== EDGES: aggregation (diamond) ===== -->
<g class="e" marker-end="url(#d)">
<path d="M48,94 C60,168 92,178 260,181 C800,187 1420,186 1656,199"/>
<path d="M195,94 C213,158 240,176 400,180 C900,187 1450,188 1656,199"/>
<path d="M318,94 C343,155 380,173 550,178 C1000,186 1460,189 1656,200"/>
<path d="M496,94 C528,140 580,170 750,177 C1100,186 1470,190 1656,200"/>
<path d="M699,109 C718,158 760,172 900,179 C1200,187 1480,191 1656,201"/>
<path d="M843,94 C860,150 900,170 1050,179 C1300,187 1500,192 1656,201"/>
<path d="M992,109 C1010,160 1040,175 1150,182 C1350,189 1510,193 1656,202"/>
<path d="M1136,102 C1150,170 1190,196 1290,196 C1420,196 1540,193 1656,202"/>
<path d="M1333,109 C1345,160 1370,178 1450,185 C1540,191 1605,195 1656,203"/>
<path d="M1482,94 C1492,140 1515,170 1560,184 C1600,195 1630,198 1656,200"/>
<path d="M1490,94 C1505,142 1530,172 1570,186 C1605,196 1632,200 1656,203"/>
<path d="M1645,94 C1652,130 1660,160 1664,195"/>
<path d="M1879,102 C1876,140 1868,165 1864,195"/>
<path d="M2085,117 C2030,230 1930,360 1877,458"/>
<path d="M2274,102 C2150,270 1980,420 1877,527"/>
<path d="M2450,94 C2400,150 2100,380 1877,563"/>
<path d="M2553,94 C2548,125 2520,145 2480,172 C2250,340 2000,500 1877,577"/>
<path d="M2656,94 C2640,200 2500,330 2300,430 C2100,530 1950,592 1877,612"/>
<path d="M2738,94 C2720,180 2600,280 2320,445 C2100,560 1950,606 1877,619"/>
<path d="M2877,94 C2850,200 2700,330 2500,440 C2250,575 2000,615 1877,628"/>
<path d="M3016,92 C2900,200 2700,290 2400,450 C2150,565 1950,606 1877,616"/>
<path d="M3077,94 C3125,180 3120,300 3116,460 C3110,650 3080,900 3095,1030 C3110,1150 3200,1230 3350,1290 C3480,1340 3600,1385 3687,1402"/>
<path d="M3687,1390 C3300,1250 2500,960 1877,706"/>
<path d="M1877,719 C2300,940 2900,1200 3200,1290 C3450,1360 3600,1395 3687,1408"/>
<path d="M3336,686 C3350,850 3390,1020 3480,1150 C3560,1260 3630,1320 3687,1352"/>
<path d="M3571,693 C3555,850 3560,1050 3620,1200 C3645,1255 3665,1285 3687,1296"/>
<path d="M3759,686 C3752,900 3765,1100 3773,1252"/>
<path d="M3863,686 C3850,900 3832,1100 3823,1252"/>
<path d="M3962,686 C3955,900 3920,1100 3892,1252"/>
<path d="M3967,686 C3962,900 3926,1100 3896,1252"/>
<path d="M4102,686 C4090,900 4030,1100 3934,1254"/>
<path d="M4255,686 C4262,950 4150,1210 3934,1352"/>
<path d="M4361,686 C4372,960 4280,1260 3934,1395"/>
<path d="M4530,686 C4565,1000 4400,1310 3934,1412"/>
<path d="M1178,686 C1150,780 1140,1000 1220,1100 C1290,1170 1420,1160 1493,1196"/>
<path d="M1331,693 C1330,900 1370,1050 1430,1150 C1455,1180 1475,1188 1493,1192"/>
<path d="M1533,701 C1500,850 1500,1050 1512,1188"/>
<path d="M1656,1080 C1650,1120 1640,1160 1633,1188"/>
<path d="M1187,686 C1195,1200 1197,2300 1197,2580 C1197,2680 1400,2800 1700,2890 C2000,2970 2300,3060 2515,3112"/>
<path d="M1395,1473 C1450,1580 1520,1720 1577,1826"/>
<path d="M1621,1662 C1625,1680 1628,1700 1630,1724"/>
<path d="M1744,1110 C1730,1300 1715,1550 1704,1724"/>
<path d="M1684,2278 C1685,2300 1686,2320 1686,2341"/>
<path d="M1831,1110 C1850,1300 1870,1700 1840,2000 C1815,2200 1790,2290 1775,2341"/>
<path d="M1895,2611 C1920,2800 1990,2950 2200,3040 C2350,3090 2450,3100 2515,3098"/>
<path d="M2056,2618 C2080,2800 2150,2950 2300,3030 C2400,3075 2470,3085 2515,3090"/>
<path d="M2240,2618 C2260,2800 2320,2950 2400,3010 C2450,3045 2490,3060 2515,3070"/>
<path d="M2431,2618 C2445,2780 2480,2900 2515,2962"/>
<path d="M2604,2618 L2605,2924"/>
<path d="M2775,2618 C2770,2780 2750,2900 2695,2987"/>
<path d="M2931,2618 C2930,2800 2880,2950 2695,3077"/>
<path d="M3099,2611 C3095,2800 3000,2950 2695,3101"/>
<path d="M3290,2626 C3220,2850 3050,2980 2695,3107"/>
<path d="M3503,2634 C3420,2900 3100,3030 2695,3115"/>
<path d="M3707,2611 C3690,2800 3630,2870 3500,2950 C3200,3080 2850,3090 2695,3121"/>
</g>

<!-- ===== EDGES: inheritance ===== -->
<g class="e" marker-end="url(#t)">
<path d="M2515,3120 C2300,3060 2050,2985 1990,2950 C1900,2900 1840,2860 1806,2815"/>
<path d="M2320,1938 L2320,1526"/>
<path d="M2223,2536 C2180,2380 2120,2220 2085,2110"/>
<path d="M2439,2536 C2480,2380 2540,2200 2566,2095"/>
<path d="M2616,2536 C2660,2380 2700,2320 2743,2293 C2790,2230 2820,2160 2842,2110"/>
</g>

<!-- ===== EDGES: template instance (orange) ===== -->
<g class="o" marker-end="url(#f)">
<path d="M2229,2536 C2215,2400 2220,2250 2290,2065"/>
<path d="M2429,2536 C2430,2350 2390,2180 2343,2065"/>
<path d="M2593,2536 C2560,2400 2520,2310 2470,2280 C2420,2220 2370,2130 2348,2065"/>
</g>

<!-- ===== EDGE LABELS ===== -->
<g>
<text class="l" x="106" y="161.5">#transitionLogPub_</text>
<text class="l" x="258" y="161.5">#eventsLogPub_</text>
<text class="l" x="410" y="161.5">#transitionHistoryService_</text>
<text class="l" x="637" y="161.5">#currentState_</text>
<text class="l" x="772" y="161.5">#currentStateInfo_</text>
<text class="l" x="932" y="161.5">#status_msg_</text>
<text class="l" x="1059" y="161.5">#orthogonals_</text>
<text class="l" x="1171" y="161.5">#longLivedSignalConnections_</text>
<text class="l" x="1385" y="161.5">#stateMachineInfo_</text>
<text class="l" x="1537" y="152.5">-eventQueueMutex_</text>
<text class="l" x="1558" y="168.5">-m_mutex_</text>
<text class="l" x="1661" y="161.5">-stateMachineCurrentAction</text>
<text class="l" x="1874" y="161.5">-stateCallbackConnections</text>
<text class="l" x="2071" y="161.5">-globalData_</text>
<text class="l" x="2236" y="161.5">-transitionLogHistory_</text>
<text class="l" x="2404" y="161.5">-runMode_</text>
<text class="l" x="2515" y="161.5">-stateSeqCounter_</text>
<text class="l" x="2647" y="161.5">#timer_</text>
<text class="l" x="2720" y="161.5">#stateMachinePub_</text>
<text class="l" x="2863" y="161.5">#nh_</text>
<text class="l" x="2947" y="161.5">#stateMachineStatusPub_</text>
<text class="l" x="3136" y="657">-statusPub_</text>
<text class="l" x="1380" y="1153.5">-mutex_</text>
<text class="l" x="1449" y="1153.5">#clients_</text>
<text class="l" x="1514" y="1153.5">-clientBehaviors_</text>
<text class="l" x="1647" y="1153.5">-stateMachine_</text>
<text class="l" x="1744" y="1428.5">-stateMachine_</text>
<text class="l" x="1497" y="1696">#components_</text>
<text class="l" x="1632" y="1696">-orthogonal_</text>
<text class="l" x="1863" y="1696">#stateMachine_</text>
<text class="l" x="1201" y="2005.5">-actionMutex_</text>
<text class="l" x="1689" y="2314.5">#owner_</text>
<text class="l" x="2803" y="1154.5">-smaccStateMachine_</text>
<text class="l" x="3008" y="1154.5">-signalDetector_</text>
<text class="l" x="3481" y="1156.5">-updatableClients_</text>
<text class="l" x="3606" y="1156.5">-updatableStateElements_</text>
<text class="l" x="3770" y="1156.5">-lastState_</text>
<text class="l" x="3837" y="1156.5">-loop_rate_hz</text>
<text class="l" x="3941" y="1149.5">-end_</text>
<text class="l" x="3924" y="1164.5">-initialized_</text>
<text class="l" x="4011" y="1156.5">-scheduler_</text>
<text class="l" x="4168" y="1156.5">-processorHandle_</text>
<text class="l" x="4313" y="1156.5">-signalDetectorThread_</text>
<text class="l" x="4470" y="1156.5">-executionModel_</text>
<text class="l" x="2227" y="2315.5">&lt; void(const WrappedResult &amp;)&gt;</text>
<text class="l" x="2418" y="2315.5">&lt; void()&gt;</text>
<text class="l" x="2494" y="2315.5">&lt; void(const Feedback &amp;)&gt;</text>
<text class="l" x="2018" y="2873.5">+actionServerName</text>
<text class="l" x="2182" y="2873.5">+serverTimeout</text>
<text class="l" x="2343" y="2851.5">+onActionAborted_</text>
<text class="l" x="2335" y="2865.5">+onActionCancelled</text>
<text class="l" x="2392" y="2880.5">_</text>
<text class="l" x="2335" y="2895.5">+onActionSucceeded_</text>
<text class="l" x="2489" y="2865.5">+onGoalAccepted_</text>
<text class="l" x="2489" y="2881.5">+onGoalRejected_</text>
<text class="l" x="2608" y="2873.5">+onActionFeedback_</text>
<text class="l" x="2760" y="2858.5">+postAbortedEvent</text>
<text class="l" x="2754" y="2873.5">+postCancelledEvent</text>
<text class="l" x="2757" y="2888.5">+postSuccessEvent</text>
<text class="l" x="2908" y="2873.5">+postFeedbackEvent</text>
<text class="l" x="3070" y="2874">-client_</text>
<text class="l" x="3176" y="2874">-lastRequest_</text>
<text class="l" x="3374" y="2874">-lastCancelResponse_</text>
<text class="l" x="3620" y="2874">-feedbackCallback_</text>
</g>
</svg>
</body></html>
